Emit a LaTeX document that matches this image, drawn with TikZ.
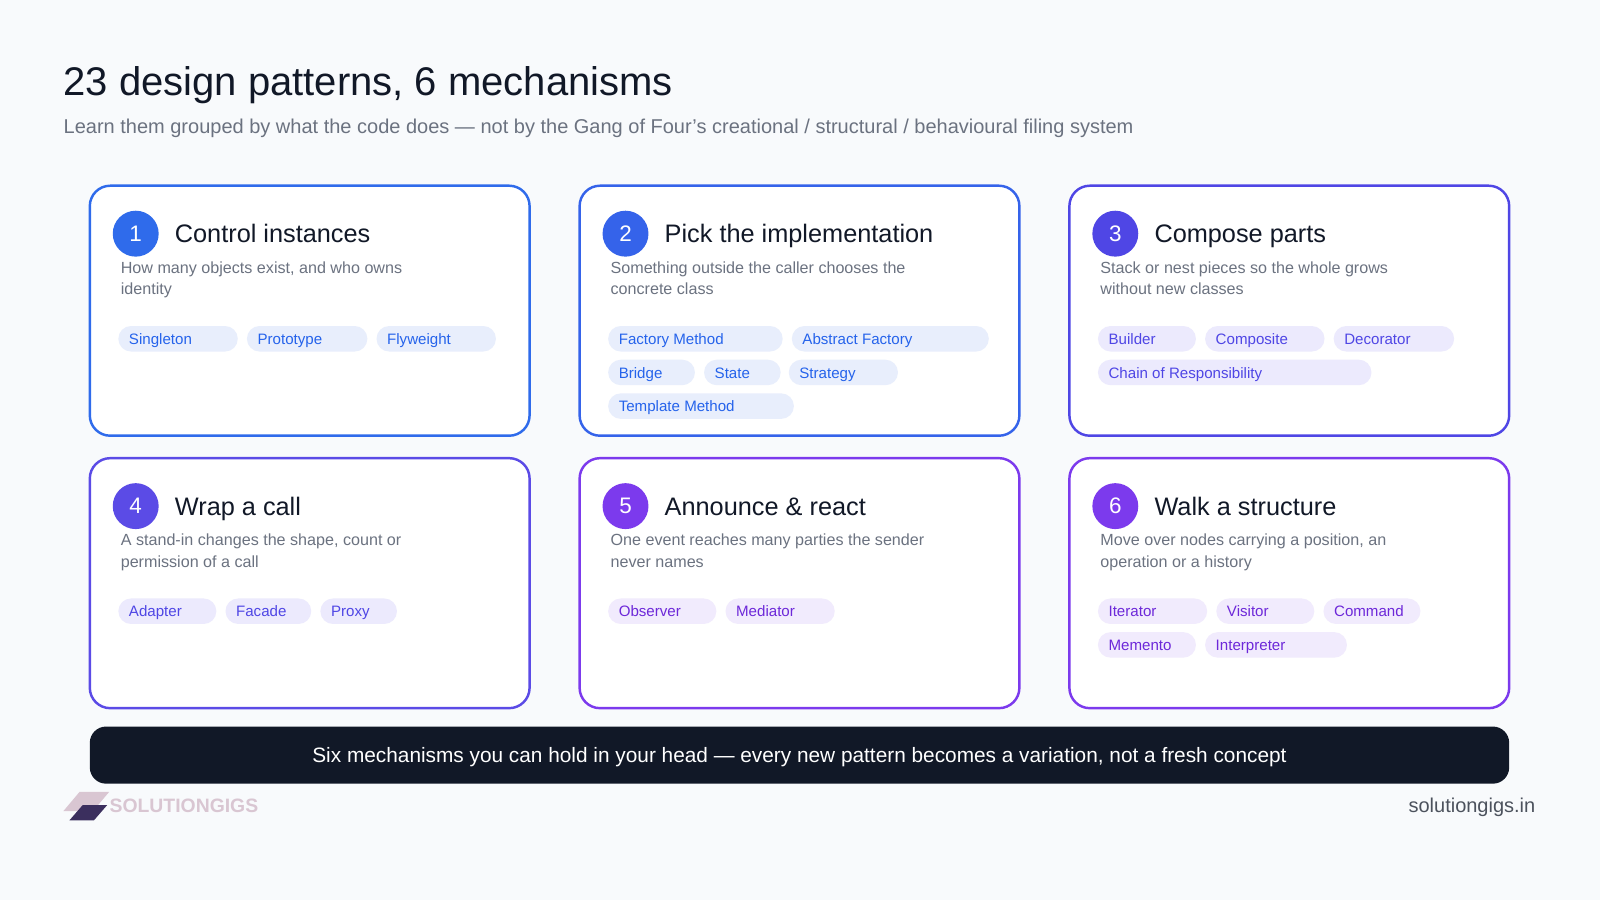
\documentclass[tikz,border=0pt]{standalone}
\usepackage{fontspec}
\setmainfont{Liberation Sans}
\begin{document}
\definecolor{bg}{HTML}{F8FAFC}
\definecolor{ink}{HTML}{111827}
\definecolor{gr}{HTML}{6B7280}
\definecolor{c1}{HTML}{2F6BEB}
\definecolor{c2}{HTML}{3563EA}
\definecolor{c3}{HTML}{4F46E5}
\definecolor{c4}{HTML}{5B4BE6}
\definecolor{c5}{HTML}{7C3AED}
\definecolor{c6}{HTML}{7C3AED}
\definecolor{pb}{HTML}{E8EEFC}
\definecolor{tb}{HTML}{2563EB}
\definecolor{pi}{HTML}{ECEAFD}
\definecolor{ti}{HTML}{4F46E5}
\definecolor{pp}{HTML}{F1EBFD}
\definecolor{tp}{HTML}{6D28D9}
\definecolor{lgA}{HTML}{D9C6D2}
\definecolor{lgB}{HTML}{3B2F5E}
\begin{tikzpicture}[x=0.5pt,y=-0.5pt,
  card/.style={draw=#1,line width=1.2pt,fill=white,rounded corners=10pt},
  num/.style={circle,fill=#1,text=white,minimum size=22.5pt,inner sep=0pt,font=\fontsize{11}{13}\selectfont},
  ttl/.style={anchor=base west,inner sep=0pt,text=ink,font=\fontsize{12.4}{15}\selectfont},
  dsc/.style={anchor=north west,text=gr,align=left,inner sep=0pt,font=\fontsize{7.9}{10.6}\selectfont},
  pilltext/.style={anchor=base west,inner sep=0pt,font=\fontsize{7.4}{9}\selectfont}]
\fill[bg] (0,0) rectangle (1568,882);
\useasboundingbox (0,0) rectangle (1568,882);
\node[anchor=base west,inner sep=0pt,text=ink,font=\fontsize{19.6}{24}\selectfont] (title) at (62,94) {23 design patterns, 6 mechanisms};
\node[anchor=base west,inner sep=0pt,text=gr,font=\fontsize{9.8}{12}\selectfont] (sub) at (62,131) {Learn them grouped by what the code does — not by the Gang of Four's creational / structural / behavioural filing system};
\newcommand\pill[6]{% name x1 x2 y fill text
  \fill[#5,rounded corners=6.2pt] (#2,#4-12.5) rectangle (#3,#4+12.5);
  \node[pilltext,text=#6] (#1) at (#2+10,#4+5.5) {#1};}
\newcommand\card[6]{% x y color num title desc
  \draw[card=#3] (#1,#2) rectangle (#1+431,#2+245);
  \node[num=#3] (n#4) at (#1+45,#2+47) {#4};
  \node[ttl] (t#4) at (#1+83,#2+56) {#5};
  \node[dsc] (d#4) at (#1+30,#2+74) {#6};}
\card{88}{182}{c1}{1}{Control instances}{How many objects exist, and who owns\\identity}
\card{568}{182}{c2}{2}{Pick the implementation}{Something outside the caller chooses the\\concrete class}
\card{1048}{182}{c3}{3}{Compose parts}{Stack or nest pieces so the whole grows\\without new classes}
\card{88}{449}{c4}{4}{Wrap a call}{A stand-in changes the shape, count or\\permission of a call}
\card{568}{449}{c5}{5}{Announce \& react}{One event reaches many parties the sender\\never names}
\card{1048}{449}{c6}{6}{Walk a structure}{Move over nodes carrying a position, an\\operation or a history}
\pill{Singleton}{116}{233}{332}{pb}{tb}
\pill{Prototype}{242}{360}{332}{pb}{tb}
\pill{Flyweight}{369}{486}{332}{pb}{tb}
\pill{Factory Method}{596}{767}{332}{pb}{tb}
\pill{Abstract Factory}{776}{969}{332}{pb}{tb}
\pill{Bridge}{596}{681}{365}{pb}{tb}
\pill{State}{690}{765}{365}{pb}{tb}
\pill{Strategy}{773}{880}{365}{pb}{tb}
\pill{Template Method}{596}{778}{398}{pb}{tb}
\pill{Builder}{1076}{1172}{332}{pi}{ti}
\pill{Composite}{1181}{1298}{332}{pi}{ti}
\pill{Decorator}{1307}{1425}{332}{pi}{ti}
\pill{Chain of Responsibility}{1076}{1344}{365}{pi}{ti}
\pill{Adapter}{116}{212}{599}{pi}{ti}
\pill{Facade}{221}{305}{599}{pi}{ti}
\pill{Proxy}{314}{389}{599}{pi}{ti}
\pill{Observer}{596}{702}{599}{pp}{tp}
\pill{Mediator}{711}{818}{599}{pp}{tp}
\pill{Iterator}{1076}{1183}{599}{pp}{tp}
\pill{Visitor}{1192}{1288}{599}{pp}{tp}
\pill{Command}{1297}{1392}{599}{pp}{tp}
\pill{Memento}{1076}{1172}{632}{pp}{tp}
\pill{Interpreter}{1181}{1320}{632}{pp}{tp}
\fill[ink,rounded corners=8pt] (88,712) rectangle (1479,768);
\node[anchor=base,inner sep=0pt,text=white,font=\fontsize{10.2}{12}\selectfont] (bar) at (783.5,747) {Six mechanisms you can hold in your head — every new pattern becomes a variation, not a fresh concept};
% logo
\fill[lgA] (62,795) -- (78,776) -- (107,776) -- (91,795) -- cycle;
\fill[lgB] (68,804) -- (81,789) -- (105,789) -- (92,804) -- cycle;
\node[anchor=west,inner sep=0pt,text=lgA,font=\bfseries\fontsize{9.5}{11}\selectfont] (logo) at (107,790) {SOLUTIONGIGS};
\node[anchor=base east,inner sep=0pt,text=ink!75,font=\fontsize{9.8}{12}\selectfont] (url) at (1505,796) {solutiongigs.in};
\end{tikzpicture}
\end{document}
